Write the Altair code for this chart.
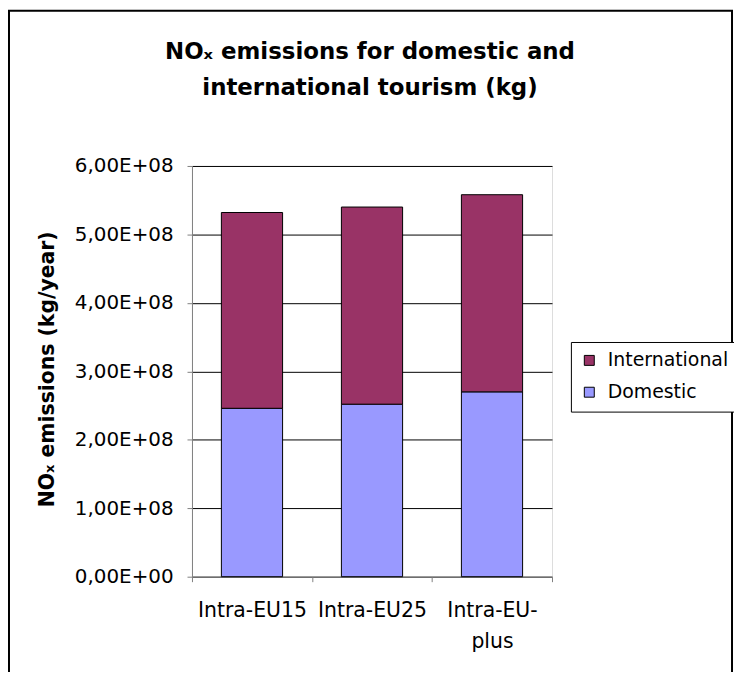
import altair as alt
import pandas as pd

categories = ["Intra-EU15", "Intra-EU25", "Intra-EU-plus"]
domestic = [2.46e8, 2.52e8, 2.70e8]
international = [2.86e8, 2.88e8, 2.88e8]
series = ["International", "Domestic"]
colors = ["#993366", "#9999FF"]
y_ticks = [0, 1e8, 2e8, 3e8, 4e8, 5e8, 6e8]
title_lines = ["NOₓ emissions for domestic and", "international tourism (kg)"]

rows = []
for c, d, i in zip(categories, domestic, international):
    rows.append({"category": c, "series": "Domestic", "value": d, "order": 0})
    rows.append({"category": c, "series": "International", "value": i, "order": 1})
df = pd.DataFrame(rows)

FONT = "DejaVu Sans"

bars = alt.Chart(df).mark_bar(
    stroke="black", strokeWidth=1, width=alt.RelativeBandSize(0.51)
).encode(
    x=alt.X("category:N", sort=categories,
            scale=alt.Scale(paddingInner=0, paddingOuter=0),
            axis=alt.Axis(title=None, labelAngle=0, tickBand="extent",
                          domainColor="#808080", tickColor="#808080", tickSize=5,
                          labelFontSize=20.5, labelFont=FONT, labelColor="black",
                          labelPadding=19, labelLineHeight=31, labelBaseline="top",
                          labelExpr="datum.value == 'Intra-EU-plus' ? ['Intra-EU-', 'plus'] : datum.value")),
    y=alt.Y("value:Q", stack="zero",
            scale=alt.Scale(domain=[0, 6e8], nice=False),
            axis=alt.Axis(values=y_ticks, title="NOₓ emissions (kg/year)",
                          titleFont=FONT, titleFontSize=20.5, titleFontWeight="bold",
                          titleColor="black", titleX=-145, titleY=204,
                          titleBaseline="middle", titleAlign="center",
                          domainColor="#808080", tickColor="#808080", tickSize=5,
                          gridColor="black", gridWidth=1, grid=True,
                          labelFontSize=20, labelFont=FONT, labelColor="black",
                          labelPadding=14,
                          labelExpr="datum.value == 0 ? '0,00E+00' : replace(format(datum.value / 1e8, '.2f'), '.', ',') + 'E+08'")),
    color=alt.Color("series:N",
                    scale=alt.Scale(domain=series, range=colors),
                    legend=alt.Legend(title=None, orient="none", legendX=381, legendY=177,
                                      strokeColor="black", fillColor="white", padding=9,
                                      symbolType="square", symbolSize=100,
                                      symbolStrokeColor="black", symbolStrokeWidth=1,
                                      labelFont=FONT, labelFontSize=19, labelColor="black",
                                      labelOffset=9, rowPadding=12)),
    order=alt.Order("order:Q"),
)

title_data = alt.Data(values=[{}])
title1 = alt.Chart(title_data).mark_text(
    font=FONT, fontSize=23, fontWeight="bold", color="black",
    align="center", baseline="alphabetic"
).encode(x=alt.value(179), y=alt.value(-108), text=alt.value(title_lines[0]))
title2 = alt.Chart(title_data).mark_text(
    font=FONT, fontSize=23, fontWeight="bold", color="black",
    align="center", baseline="alphabetic"
).encode(x=alt.value(179), y=alt.value(-71), text=alt.value(title_lines[1]))

frame = alt.Chart(alt.Data(values=[{}])).mark_rect(
    fill="transparent", stroke="black", strokeWidth=2
).encode(
    x=alt.value(-184), x2=alt.value(543), y=alt.value(-156), y2=alt.value(560)
)

chart = alt.layer(frame, title1, title2, bars).properties(
    width=362, height=413,
    autosize=alt.AutoSizeParams(type="none"),
    padding={"left": 185, "top": 157, "right": 183, "bottom": 94},
).configure_view(strokeWidth=0).configure(background="white")

chart.save("out.html", embed_options={"renderer": "svg", "actions": False})
